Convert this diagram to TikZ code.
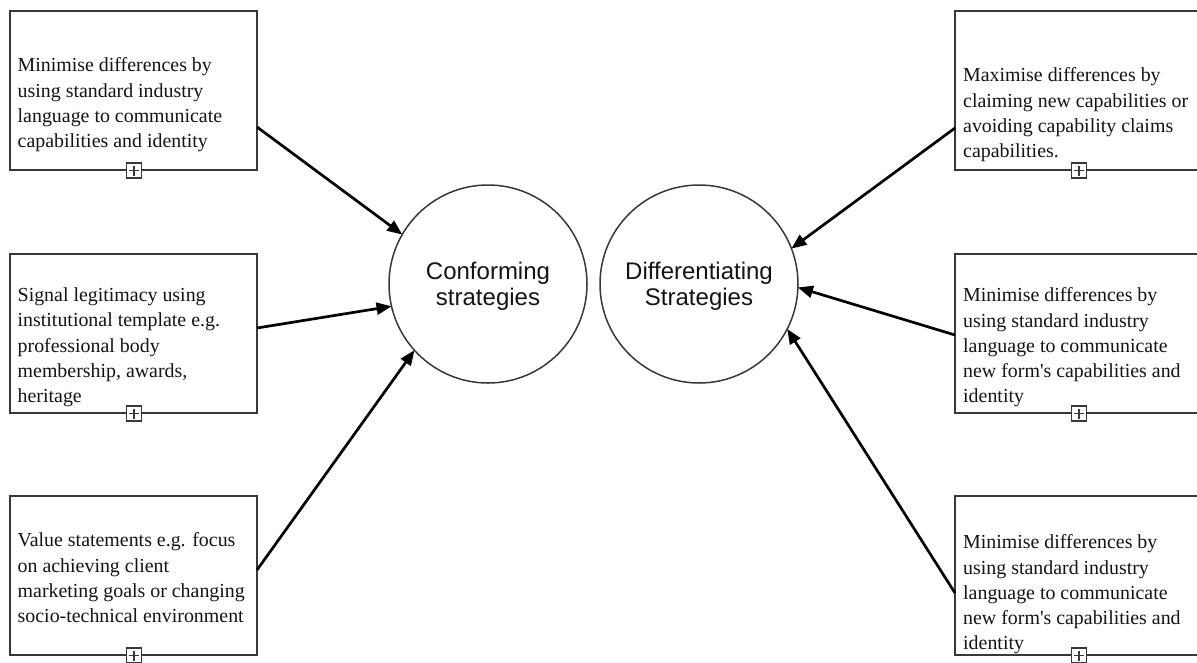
\documentclass[tikz,border=0pt]{standalone}
\usepackage{fontspec}
\setmainfont{Liberation Serif}
% card text keeps straight apostrophes (no TeX ligature mapping)
\newfontfamily\cardfont{Liberation Serif}
\newfontfamily\hubfont{Liberation Sans}
\usetikzlibrary{arrows.meta}
\definecolor{edgegrey}{HTML}{383838}
\definecolor{inkblack}{HTML}{141414}
\begin{document}
\begin{tikzpicture}[x=1pt,y=-1pt,
  card/.style={draw=edgegrey, line width=1.5pt, minimum width=247pt,
    minimum height=159pt, inner sep=0pt, outer sep=0pt},
  cardtext/.style={anchor=north west, inner sep=0pt, align=left, text=inkblack,
    font=\cardfont\fontsize{19.9}{25.3}\selectfont},
  hub/.style={circle, draw=edgegrey, line width=1.5pt, minimum size=198pt,
    inner sep=0pt, outer sep=0pt, align=center, text=inkblack,
    font=\hubfont\fontsize{24}{26}\selectfont},
  feed/.style={draw=black, line width=2.7pt, -{Triangle[length=15pt,width=12pt]}},
  expander/.style={draw=edgegrey, fill=white, line width=1.3pt, minimum size=15pt,
    inner sep=0pt,
    path picture={\draw[line width=1.2pt, edgegrey]
      ([xshift=-5pt]path picture bounding box.center) -- ([xshift=5pt]path picture bounding box.center)
      ([yshift=-5pt]path picture bounding box.center) -- ([yshift=5pt]path picture bounding box.center);}}
]
\useasboundingbox (0,0) rectangle (1197,662);
\clip (0,0) rectangle (1197,662);
\fill[white] (0,0) rectangle (1197,662);

% hubs
\node[hub] (conf) at (488,284) {};
\node[hub] (diff) at (699,284) {};
\node[font=\hubfont\fontsize{24}{26}\selectfont, align=center, text=inkblack] (conflabel) at (488,286.5) {Conforming\\strategies};
\node[font=\hubfont\fontsize{24}{26}\selectfont, align=center, text=inkblack] (difflabel) at (699,286.5) {Differentiating\\Strategies};

% left cards
\node[card] (l1) at (133.5,90.5) {};
\node[card] (l2) at (133.5,333.5) {};
\node[card] (l3) at (133.5,575.5) {};
% right cards (run past the right edge)
\node[card] (r1) at (1078.5,90.5) {};
\node[card] (r2) at (1078.5,333.5) {};
\node[card] (r3) at (1078.5,575.5) {};

\node[cardtext] (t1) at (17.5,57.5) {Minimise differences by\\using standard industry\\language to communicate\\capabilities and identity};
\node[cardtext] (t2) at (17.5,287.5) {Signal legitimacy using\\institutional template e.g.\\professional body\\membership, awards,\\heritage};
\node[cardtext] (t3) at (17.5,532.5) {Value statements e.g. focus\\on achieving client\\marketing goals or changing\\socio-technical environment};
\node[cardtext] (t4) at (963,67.5) {Maximise differences by\\claiming new capabilities or\\avoiding capability claims\\capabilities.};
\node[cardtext] (t5) at (963,287.5) {Minimise differences by\\using standard industry\\language to communicate\\new form's capabilities and\\identity};
\node[cardtext] (t6) at (963,534.5) {Minimise differences by\\using standard industry\\language to communicate\\new form's capabilities and\\identity};

% expand markers on the bottom edges
\foreach \c in {l1,l2,l3,r1,r2,r3}
  \node[expander] (x\c) at ([xshift=0.5pt,yshift=-0.5pt]\c.south) {};

% connectors
\draw[feed] ([yshift=-36.5pt]l1.east) -- (conf.150);
\draw[feed] ([yshift=5.5pt]l2.east) -- (conf.193);
\draw[feed] ([yshift=5.5pt]l3.east) -- (conf.222);
\draw[feed] ([yshift=-37.5pt]r1.west) -- (diff.21);
\draw[feed] ([yshift=-1.5pt]r2.west) -- (diff.358);
\draw[feed] ([yshift=-17.5pt]r3.west) -- (diff.333);
\end{tikzpicture}
\end{document}
